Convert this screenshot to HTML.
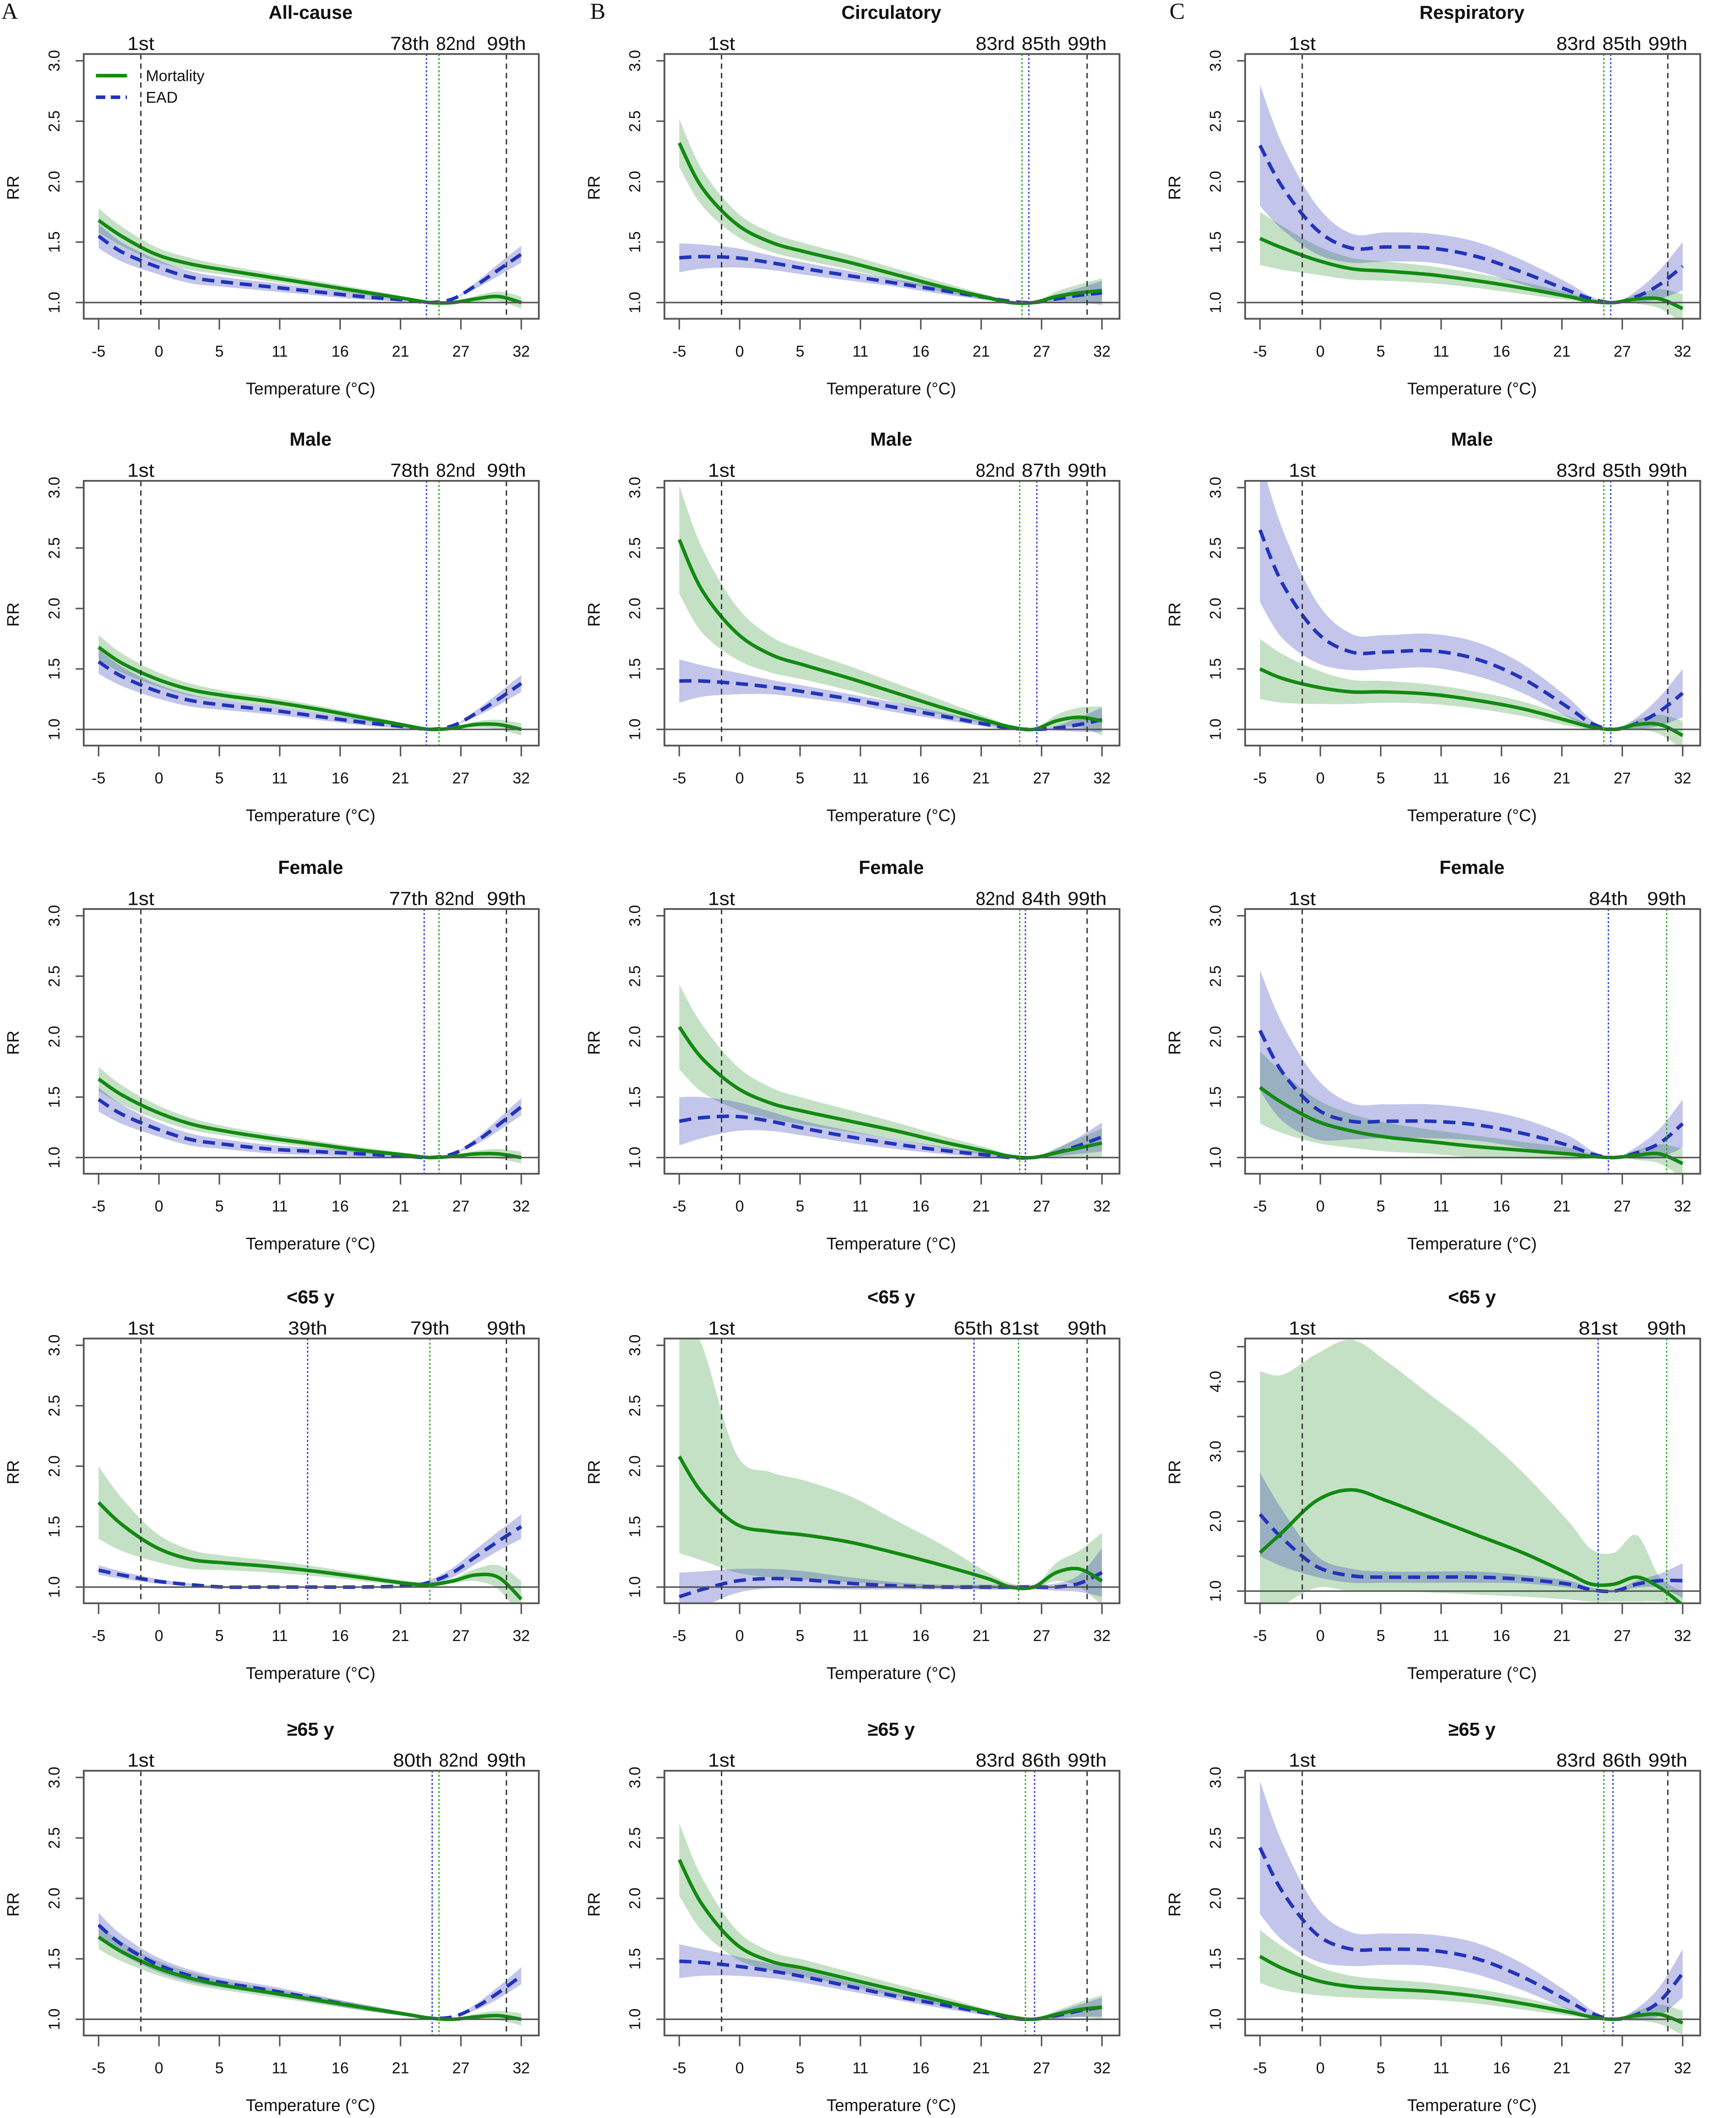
<!DOCTYPE html>
<html><head><meta charset="utf-8">
<style>
html,body{margin:0;padding:0;background:#fff;overflow:hidden;width:4099px;height:5096px;}
svg{display:block;}
text{font-family:"Liberation Sans",Arial,sans-serif;fill:#111;}
.serif{font-family:"Liberation Serif",serif;}
</style></head>
<body>
<svg id="fig" xmlns="http://www.w3.org/2000/svg" width="4099" height="5096" viewBox="0 0 1285.5 1598.2" preserveAspectRatio="none"></svg>
<script>
// ---- shared data ----
const temps=[-5,-3,0,3,6,10,14,18,22,24,26,28,30,32];
const xTickLabels=["-5","0","5","11","16","21","27","32"];
const yTicks=[1.0,1.5,2.0,2.5,3.0];
const yTicksC4=[1,1.5,2,2.5,3,3.5,4,4.5];
const yLabelsC4=["1.0","","2.0","","3.0","","4.0",""];
const colTitles=["All-cause","Circulatory","Respiratory"];
const rowTitles=["","Male","Female","<65 y","≥65 y"];
const defHwM=[.1,.08,.06,.05,.04,.035,.03,.025,.015,.005,0,.025,.04,.05];
const defHwE=[.1,.08,.06,.05,.04,.035,.03,.025,.015,.005,0,.025,.05,.07];

// ---- row 1 ----
const mortA1=[1.68,1.55,1.40,1.32,1.27,1.21,1.15,1.09,1.03,1.0,1.0,1.03,1.05,1.0];
const eadA1=[1.55,1.42,1.30,1.21,1.17,1.13,1.09,1.05,1.02,1.0,1.03,1.14,1.27,1.40];
const mortB1=[2.32,1.95,1.65,1.50,1.42,1.33,1.23,1.13,1.04,1.0,1.0,1.05,1.08,1.10];
const hwMB1=[.2,.15,.1,.08,.07,.06,.05,.04,.02,.005,0,.04,.07,.1];
const eadB1=[1.37,1.38,1.37,1.33,1.28,1.22,1.16,1.10,1.04,1.01,1.0,1.03,1.06,1.08];
const hwEB1=[.12,.1,.08,.06,.05,.04,.03,.03,.02,.005,0,.03,.06,.1];
const mortC1=[1.53,1.45,1.35,1.28,1.26,1.23,1.18,1.12,1.05,1.01,1.0,1.03,1.03,0.95];
const hwMC1=[.22,.18,.12,.09,.08,.07,.06,.05,.03,.01,0,.04,.08,.12];
const eadC1=[2.3,1.95,1.6,1.45,1.46,1.45,1.38,1.25,1.10,1.03,1.0,1.05,1.15,1.3];
const hwEC1=[.5,.35,.2,.12,.12,.12,.12,.1,.06,.02,0,.05,.12,.2];
// ---- row 2 ----
const mortA2=[1.68,1.55,1.42,1.33,1.28,1.23,1.17,1.10,1.03,1.0,1.01,1.04,1.04,1.0];
const eadA2=[1.56,1.44,1.32,1.24,1.20,1.16,1.11,1.06,1.02,1.0,1.03,1.13,1.25,1.38];
const mortB2=[2.57,2.15,1.8,1.62,1.53,1.42,1.30,1.18,1.07,1.02,1.0,1.07,1.10,1.07];
const hwMB2=[.45,.35,.22,.15,.12,.1,.08,.06,.03,.01,0,.05,.08,.12];
const eadB2=[1.40,1.40,1.38,1.35,1.31,1.25,1.18,1.11,1.04,1.01,1.0,1.01,1.04,1.08];
const hwEB2=[.18,.13,.09,.06,.05,.04,.04,.03,.02,.01,0,.02,.06,.1];
const mortC2=[1.50,1.42,1.35,1.31,1.31,1.29,1.24,1.17,1.07,1.02,1.0,1.04,1.04,0.95];
const hwMC2=[.25,.2,.14,.1,.09,.08,.07,.06,.04,.02,0,.04,.08,.12];
const eadC2=[2.65,2.2,1.8,1.64,1.64,1.65,1.58,1.42,1.18,1.05,1.0,1.05,1.15,1.30];
const hwEC2=[.6,.45,.25,.15,.14,.14,.14,.12,.08,.03,0,.05,.12,.2];
// ---- row 3 ----
const mortA3=[1.65,1.52,1.38,1.28,1.22,1.16,1.11,1.06,1.02,1.0,1.01,1.03,1.03,1.0];
const eadA3=[1.48,1.36,1.24,1.15,1.11,1.07,1.05,1.03,1.01,1.0,1.03,1.13,1.27,1.42];
const mortB3=[2.08,1.82,1.58,1.45,1.38,1.30,1.22,1.13,1.05,1.01,1.0,1.04,1.08,1.12];
const hwMB3=[.35,.28,.18,.13,.11,.09,.07,.05,.03,.01,0,.04,.08,.12];
const eadB3=[1.30,1.33,1.34,1.30,1.24,1.17,1.11,1.06,1.02,1.0,1.0,1.04,1.10,1.17];
const hwEB3=[.2,.17,.12,.08,.06,.05,.04,.03,.02,.01,0,.03,.07,.12];
const mortC3=[1.58,1.45,1.30,1.22,1.17,1.13,1.09,1.06,1.03,1.01,1.0,1.02,1.03,0.95];
const hwMC3=[.3,.25,.18,.14,.12,.1,.09,.07,.05,.02,0,.04,.08,.12];
const eadC3=[2.05,1.7,1.40,1.30,1.30,1.30,1.27,1.20,1.10,1.03,1.0,1.04,1.12,1.28];
const hwEC3=[.5,.4,.25,.15,.14,.14,.13,.12,.08,.03,0,.05,.12,.2];
// ---- row 4 ----
const mortA4=[1.70,1.52,1.33,1.23,1.20,1.17,1.13,1.08,1.03,1.02,1.05,1.10,1.08,0.90];
const hwMA4=[.3,.22,.12,.08,.06,.05,.04,.03,.02,.02,.02,.05,.1,.15];
const eadA4=[1.14,1.10,1.05,1.02,1.0,1.0,1.0,1.0,1.01,1.04,1.12,1.25,1.38,1.5];
const hwEA4=[.04,.03,.02,.01,.01,.005,.005,.005,.01,.02,.04,.06,.08,.1];
const mortB4=[2.08,1.78,1.52,1.46,1.43,1.37,1.28,1.18,1.07,1.0,1.0,1.12,1.15,1.05];
const loMB4=[1.28,1.22,1.12,1.08,1.06,1.04,1.02,1.0,0.98,0.98,0.98,1.05,1.0,0.85];
const hiMB4=[3.3,3.0,2.1,1.95,1.88,1.75,1.55,1.35,1.12,1.03,1.0,1.2,1.3,1.45];
const eadB4=[0.92,0.98,1.05,1.07,1.06,1.03,1.01,1.0,1.0,1.0,1.0,1.0,1.03,1.12];
const hwEB4=[.2,.15,.1,.08,.07,.05,.03,.02,.02,.02,.02,.03,.07,.2];
const mortC4=[1.55,1.85,2.3,2.45,2.3,2.05,1.8,1.55,1.25,1.1,1.1,1.2,1.05,0.8];
const loMC4=[0.6,0.8,1.05,1.0,1.0,0.98,0.95,0.92,0.88,0.85,0.85,0.85,0.85,0.8];
const hiMC4=[4.15,4.1,4.4,4.6,4.3,3.8,3.3,2.7,2.0,1.6,1.55,1.8,1.2,1.0];
const eadC4=[2.1,1.75,1.35,1.22,1.2,1.2,1.2,1.17,1.1,1.02,1.0,1.1,1.15,1.15];
const hwEC4=[.6,.4,.15,.1,.08,.08,.08,.06,.05,.03,.02,.05,.1,.25];
// ---- row 5 ----
const mortA5=[1.68,1.56,1.43,1.34,1.28,1.22,1.16,1.10,1.04,1.01,1.0,1.02,1.03,1.0];
const eadA5=[1.78,1.62,1.46,1.36,1.30,1.24,1.17,1.10,1.04,1.01,1.02,1.10,1.22,1.36];
const mortB5=[2.32,1.95,1.62,1.48,1.42,1.33,1.24,1.15,1.06,1.02,1.0,1.04,1.08,1.10];
const hwMB5=[.3,.22,.12,.08,.07,.06,.05,.04,.02,.01,0,.03,.06,.1];
const eadB5=[1.48,1.47,1.44,1.40,1.35,1.27,1.19,1.12,1.05,1.01,1.0,1.03,1.07,1.10];
const hwEB5=[.14,.11,.08,.06,.05,.04,.03,.03,.02,.01,0,.03,.05,.08];
const mortC5=[1.52,1.42,1.32,1.27,1.25,1.23,1.19,1.13,1.06,1.02,1.0,1.03,1.04,0.97];
const hwMC5=[.22,.18,.12,.09,.08,.07,.06,.05,.03,.01,0,.04,.08,.1];
const eadC5=[2.42,2.05,1.70,1.58,1.58,1.57,1.50,1.35,1.15,1.05,1.0,1.04,1.15,1.38];
const hwEC5=[.55,.4,.22,.14,.13,.13,.13,.11,.07,.03,0,.05,.12,.2];

// percentile lines: [temperature, type ('k','b','g'), label]
const pctA1=[[-1.3,'k','1st'],[23.7,'b','78th'],[24.8,'g','82nd'],[30.7,'k','99th']];
const pctB1=[[-1.3,'k','1st'],[25.0,'g','83rd'],[25.6,'b','85th'],[30.7,'k','99th']];
const pctC1=[[-1.3,'k','1st'],[25.1,'g','83rd'],[25.7,'b','85th'],[30.7,'k','99th']];
const pctA2=[[-1.3,'k','1st'],[23.7,'b','78th'],[24.8,'g','82nd'],[30.7,'k','99th']];
const pctB2=[[-1.3,'k','1st'],[24.8,'g','82nd'],[26.3,'b','87th'],[30.7,'k','99th']];
const pctC2=[[-1.3,'k','1st'],[25.1,'g','83rd'],[25.7,'b','85th'],[30.7,'k','99th']];
const pctA3=[[-1.3,'k','1st'],[23.5,'b','77th'],[24.8,'g','82nd'],[30.7,'k','99th']];
const pctB3=[[-1.3,'k','1st'],[24.8,'g','82nd'],[25.3,'b','84th'],[30.7,'k','99th']];
const pctC3=[[-1.3,'k','1st'],[25.5,'b','84th'],[30.6,'g','99th']];
const pctA4=[[-1.3,'k','1st'],[13.3,'b','39th'],[24.0,'g','79th'],[30.7,'k','99th']];
const pctB4=[[-1.3,'k','1st'],[20.8,'b','65th'],[24.7,'g','81st'],[30.7,'k','99th']];
const pctC4=[[-1.3,'k','1st'],[24.6,'b','81st'],[30.6,'g','99th']];
const pctA5=[[-1.3,'k','1st'],[24.2,'b','80th'],[24.8,'g','82nd'],[30.7,'k','99th']];
const pctB5=[[-1.3,'k','1st'],[25.3,'g','83rd'],[26.1,'b','86th'],[30.7,'k','99th']];
const pctC5=[[-1.3,'k','1st'],[25.1,'g','83rd'],[25.9,'b','86th'],[30.7,'k','99th']];

const panels=[
 {r:0,c:0,m:mortA1,e:eadA1,p:pctA1},{r:0,c:1,m:mortB1,hm:hwMB1,e:eadB1,he:hwEB1,p:pctB1},{r:0,c:2,m:mortC1,hm:hwMC1,e:eadC1,he:hwEC1,p:pctC1},
 {r:1,c:0,m:mortA2,e:eadA2,p:pctA2},{r:1,c:1,m:mortB2,hm:hwMB2,e:eadB2,he:hwEB2,p:pctB2},{r:1,c:2,m:mortC2,hm:hwMC2,e:eadC2,he:hwEC2,p:pctC2},
 {r:2,c:0,m:mortA3,e:eadA3,p:pctA3},{r:2,c:1,m:mortB3,hm:hwMB3,e:eadB3,he:hwEB3,p:pctB3},{r:2,c:2,m:mortC3,hm:hwMC3,e:eadC3,he:hwEC3,p:pctC3},
 {r:3,c:0,m:mortA4,hm:hwMA4,e:eadA4,he:hwEA4,p:pctA4},{r:3,c:1,m:mortB4,lo:loMB4,hi:hiMB4,e:eadB4,he:hwEB4,p:pctB4},{r:3,c:2,m:mortC4,lo:loMC4,hi:hiMC4,e:eadC4,he:hwEC4,p:pctC4,big:true},
 {r:4,c:0,m:mortA5,e:eadA5,p:pctA5},{r:4,c:1,m:mortB5,hm:hwMB5,e:eadB5,he:hwEB5,p:pctB5},{r:4,c:2,m:mortC5,hm:hwMC5,e:eadC5,he:hwEC5,p:pctC5}
];

const NS="http://www.w3.org/2000/svg";
const svg=document.getElementById('fig');
const colX=[0,430,860], rowY=[0,316,633,951,1271];
function mk(tag,attrs,parent){const el=document.createElementNS(NS,tag);for(const k in attrs)el.setAttribute(k,attrs[k]);(parent||svg).appendChild(el);return el;}
function smooth(pts){
 let d="M"+pts[0][0].toFixed(2)+","+pts[0][1].toFixed(2);
 for(let i=0;i<pts.length-1;i++){
  const p0=pts[Math.max(0,i-1)],p1=pts[i],p2=pts[i+1],p3=pts[Math.min(pts.length-1,i+2)];
  const c1=[p1[0]+(p2[0]-p0[0])/6,p1[1]+(p2[1]-p0[1])/6],c2=[p2[0]-(p3[0]-p1[0])/6,p2[1]-(p3[1]-p1[1])/6];
  d+=` C${c1[0].toFixed(2)},${c1[1].toFixed(2)} ${c2[0].toFixed(2)},${c2[1].toFixed(2)} ${p2[0].toFixed(2)},${p2[1].toFixed(2)}`;
 }
 return d;
}
function smoothCont(pts){return smooth(pts).replace(/^M/,"L");}

function layoutLabels(xs){
 const GAP=34;
 const out=xs.slice();
 let i=1;
 while(i<out.length-1){
  let j=i;
  while(j+1<out.length-1 && xs[j+1]-xs[j]<GAP) j++;
  if(j>i){
   let mean=0;for(let k=i;k<=j;k++)mean+=xs[k];mean/=(j-i+1);
   const start=mean-GAP*(j-i)/2;
   for(let k=i;k<=j;k++)out[k]=start+GAP*(k-i);
  }
  i=j+1;
 }
 for(let k=out.length-2;k>=1;k--){ if(out[k]>out[k+1]-GAP) out[k]=out[k+1]-GAP; }
 return out;
}

["A","B","C"].forEach((L,i)=>{
 const t=mk('text',{x:[1,437,866][i],y:14,'font-size':17,class:'serif'});
 
 
 t.textContent=L;
});

panels.forEach((P,idx)=>{
 const ox=colX[P.c], oy=rowY[P.r];
 const g=mk('g',{transform:`translate(${ox},${oy})`});
 
 
 const X=t=>73+(t+5)*(313/37);
 const Y=P.big?(v=>227-(v-1)*51.7):(v=>224-(v-1)*89.5);
 const bx0=62,bx1=399,by0=40,by1=236;
 const cid='clip'+idx;
 const cp=mk('clipPath',{id:cid},g);mk('rect',{x:bx0,y:by0,width:bx1-bx0,height:by1-by0},cp);
 const title=P.r===0?colTitles[P.c]:rowTitles[P.r];
 const tt=mk('text',{x:230,y:14,'font-size':14,'font-weight':'bold','text-anchor':'middle'},g);
 
 
 tt.textContent=title;
 const plot=mk('g',{'clip-path':`url(#${cid})`},g);
 function band(vals,hw,lo,hi,fill,name){
  const up=temps.map((t,i)=>[X(t),Y(hi?hi[i]:vals[i]+hw[i])]);
  const dn=temps.map((t,i)=>[X(t),Y(lo?lo[i]:vals[i]-hw[i])]).reverse();
  const b=mk('path',{d:smooth(up)+" "+smoothCont(dn)+" Z",fill:fill,stroke:'none'},plot);
  
  
 }
 band(P.m,P.hm||defHwM,P.lo,P.hi,'rgba(30,140,30,0.26)','mortality-ci-band');
 band(P.e,P.he||defHwE,null,null,'rgba(40,50,180,0.28)','ead-ci-band');
 const rl=mk('line',{x1:bx0,x2:bx1,y1:Y(1),y2:Y(1),stroke:'#555','stroke-width':1.1},g);
 
 
 const lineXs=P.p.map(q=>X(q[0]));
 const labXs=layoutLabels(lineXs);
 P.p.forEach((q,k)=>{
  const x=lineXs[k];
  const col=q[1]==='k'?'#333':(q[1]==='b'?'#3344dd':'#33aa33');
  const da=q[1]==='k'?'4,3':'1.5,1.5';
  const vl=mk('line',{x1:x,x2:x,y1:by0,y2:by1,stroke:col,'stroke-width':1,'stroke-dasharray':da},g);
  
  
  const lt=mk('text',{x:labXs[k],y:37,'font-size':14,'text-anchor':'middle','textLength':q[2].length>3?29:20,lengthAdjust:'spacingAndGlyphs'},g);
  
  
  lt.textContent=q[2];
 });
 const ep=mk('path',{d:smooth(temps.map((t,i)=>[X(t),Y(P.e[i])])),fill:'none',stroke:'#2233bb','stroke-width':2.6,'stroke-dasharray':'9,5'},plot);
 
 
 const mp=mk('path',{d:smooth(temps.map((t,i)=>[X(t),Y(P.m[i])])),fill:'none',stroke:'#128a12','stroke-width':2.6},plot);
 
 
 const box=mk('rect',{x:bx0,y:by0,width:bx1-bx0,height:by1-by0,fill:'none',stroke:'#555','stroke-width':1.3},g);
 
 
 xTickLabels.forEach((lab,i)=>{
  const x=73+i*(313/7);
  mk('line',{x1:x,x2:x,y1:by1,y2:244,stroke:'#555','stroke-width':1.1},g);
  const tl=mk('text',{x:x,y:264,'font-size':11.5,'text-anchor':'middle'},g);
  
  
  tl.textContent=lab;
 });
 const xl=mk('text',{x:230,y:292,'font-size':12.5,'text-anchor':'middle'},g);
 
 
 xl.textContent='Temperature (°C)';
 const yt=P.big?yTicksC4:yTicks;
 yt.forEach((v,i)=>{
  const y=Y(v);
  mk('line',{x1:56,x2:bx0,y1:y,y2:y,stroke:'#555','stroke-width':1.1},g);
  const lab=P.big?yLabelsC4[i]:v.toFixed(1);
  if(lab){
   const tl=mk('text',{x:0,y:0,'font-size':11.5,'text-anchor':'middle',transform:`translate(44,${y}) rotate(-90)`},g);
   
   
   tl.textContent=lab;
  }
 });
 const yl=mk('text',{x:0,y:0,'font-size':12.5,'text-anchor':'middle',transform:`translate(14,139) rotate(-90)`},g);
 
 
 yl.textContent='RR';
 if(P.r===0&&P.c===0){
  const lg=mk('g',{},g);
  
  
  mk('line',{x1:71,x2:94,y1:56,y2:56,stroke:'#128a12','stroke-width':2.6},lg);
  mk('line',{x1:71,x2:94,y1:72,y2:72,stroke:'#2233bb','stroke-width':2.6,'stroke-dasharray':'7,4'},lg);
  const t1=mk('text',{x:108,y:60,'font-size':11.5},lg);
  
  
  t1.textContent='Mortality';
  const t2=mk('text',{x:108,y:76,'font-size':11.5},lg);
  
  
  t2.textContent='EAD';
 }
});
</script>
</body></html>
